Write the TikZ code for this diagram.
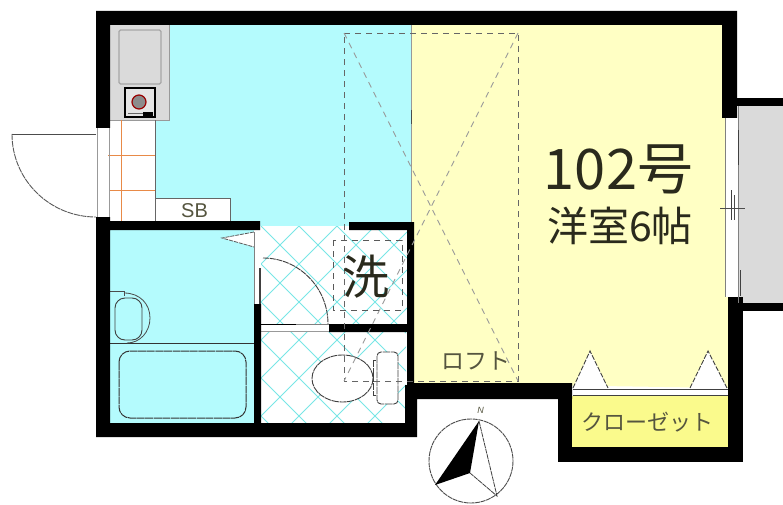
\documentclass[tikz,border=0pt]{standalone}
\usepackage{fontspec}
\setmainfont{Noto Sans CJK JP}
\setsansfont{Liberation Sans}
\newcommand{\fsz}[1]{\fontsize{#1}{#1}\selectfont}
\definecolor{bluefl}{HTML}{B4FBFD}
\definecolor{yellowfl}{HTML}{FFFFC4}
\definecolor{closetfl}{HTML}{FAFA8C}
\definecolor{greyfl}{HTML}{DADADA}
\definecolor{tilec}{HTML}{78E6E6}
\definecolor{orangel}{HTML}{E88A48}
\definecolor{txt}{HTML}{2A2A1C}
\definecolor{txtsoft}{HTML}{55553F}
\tikzset{
  wall/.style={fill=black,draw=none},
  thin line/.style={draw=#1,line width=0.8pt},
  thin line/.default=black!70,
  dashline/.style={draw=black!60,line width=0.9pt,dash pattern=on 6pt off 5pt},
  fixture/.style={draw=black!75,fill=white,line width=0.9pt,dash pattern=on 7pt off 0.7pt},
  label/.style={inner sep=0pt,text=txt},
  softlabel/.style={inner sep=0pt,text=txtsoft},
}
\begin{document}
\begin{tikzpicture}[x=1pt,y=-1pt]
\useasboundingbox (0,0) rectangle (783,505);
\fill[white] (0,0) rectangle (783,505);
% floors
\fill[bluefl] (155,25) rectangle (411,226);
\fill[yellowfl] (411,25) -- (722,25) -- (722,118) -- (726,118) -- (726,297) -- (728,297) -- (728,388) -- (411,383) -- cycle;
\fill[yellowfl] (411,300) rectangle (572,383);
\fill[closetfl] (572,396) rectangle (728,447);
\fill[greyfl] (110,25) rectangle (169,120);
\fill[white] (110,120) rectangle (155,221);
\fill[white] (155,198) rectangle (230,221);
\fill[bluefl] (110,230) rectangle (254,423);
\fill[greyfl] (738,106) rectangle (783,303);
\fill[white] (725,118) rectangle (738,297);
% tiled rooms
\begin{scope}
\clip (261,226) rectangle (407,324) (261,332) rectangle (406,423);
\fill[white] (261,226) rectangle (407,423);
\foreach \k in {-6,...,12} {
  \draw[tilec,line width=0.8pt] ({261+\k*38},226) -- ({261+\k*38+200},426);
  \draw[tilec,line width=0.8pt] ({261+\k*38},226) -- ({261+\k*38-200},426);
}
\end{scope}
% kitchen
\draw[thin line=black!40] (169,25) -- (169,120) -- (110,120);
\draw[draw=black!35,fill=greyfl,line width=1.2pt,rounded corners=1.5pt] (119,30) rectangle (161,84);
\draw[draw=black,fill=greyfl!70,line width=1.3pt] (125,88) rectangle (155,117);
\draw[draw=black!60,line width=1pt] (128,113.5) -- (152,113.5);
\fill[black] (143,112.5) rectangle (153,116);
\draw[draw=red!60!black,fill=black!45,line width=1.2pt] (139,102) circle (7);
% entrance
\draw[orangel,line width=1pt] (121,120) -- (121,221) (108,156) -- (155,156) (110,190) -- (155,190);
\draw[thin line=black!60] (155,120) -- (155,221);
\draw[thin line=black!60] (155,198) -- (230,198) -- (230,221);
\node[softlabel,font=\sffamily\fsz{20}] (sb) at (194.5,210.5) {SB};
% entrance door
\draw[draw=black!40,line width=1pt] (97,128) -- (97,217) (109,128) -- (109,217);
\coordinate (doorhinge) at (96,134);
\coordinate (doorleaf) at (12,134);
\coordinate (doorend) at (96,217);
\draw[thin line] (doorhinge) -- (doorleaf);
\draw[draw=black!65,line width=0.9pt,dash pattern=on 6pt off 0.8pt] (doorleaf) arc[start angle=180,end angle=90,x radius=84,y radius=83];
% bath
\draw[thin line=black!80] (110,343) -- (254,343);
\draw[draw=black!80,line width=1pt,rounded corners=11pt,dash pattern=on 8pt off 0.6pt] (119,351) rectangle (246,418);
\draw[thin line=black!70] (110,291) -- (124,291) -- (124,296);
\draw[thin line=black!70] (124,293) .. controls (140,293) and (150,304) .. (150,318) .. controls (150,332) and (140,343) .. (127,343);
\draw[draw=black!75,line width=0.9pt,rounded corners=10pt] (115,298) rectangle (142,340);
\draw[draw=black!65,fill=white,line width=0.8pt,dash pattern=on 4pt off 1pt] (254,232) -- (222,238) -- (254,247);
% washroom door
\fill[white] (254,230) rectangle (261,304);
\draw[draw=black!50,line width=0.9pt] (254,232) -- (254,304);
\draw[draw=black!75,line width=1.2pt] (260,268) -- (260,324);
\draw[draw=black!75,line width=0.9pt,dash pattern=on 6pt off 0.8pt] (263,258) arc[start angle=90,end angle=0,x radius=65,y radius=-66];
\fill[white] (261,325) rectangle (329,332);
\draw[draw=black!40,line width=0.8pt] (261,331.5) -- (329,331.5);
\draw[draw=black,line width=1.2pt] (261,324.5) -- (296,324.5);
\draw[draw=black!50,line width=0.8pt] (296,324.5) -- (329,324.5);
% toilet
\draw[fixture] (373,360) rectangle (378,395);
\draw[fixture] (342.5,378.5) ellipse (30.5 and 23.5);
\draw[fixture,rounded corners=4pt] (377,352) rectangle (398,404);
% walls
\fill[wall] (96,11) -- (737,11) -- (737,118) -- (722,118) -- (722,25) -- (110,25) -- (110,128) -- (96,128) -- cycle;
\fill[wall] (96,217) -- (110,217) -- (110,221) -- (260,221) -- (260,230) -- (110,230) -- (110,423) -- (254,423) -- (254,304) -- (261,304) -- (261,423) -- (405,423) -- (405,385) -- (407,385) -- (407,332) -- (329,332) -- (329,324) -- (407,324) -- (407,230) -- (349,230) -- (349,222) -- (414,222) -- (414,383) -- (572,383) -- (572,399) -- (417,399) -- (417,437) -- (96,437) -- cycle;
\fill[wall] (558,383) rectangle (572,462);
\fill[wall] (558,447) rectangle (743,462);
\fill[wall] (728,297) rectangle (743,462);
\fill[wall] (737,98) rectangle (783,106);
\fill[wall] (742,303) rectangle (783,311);
% closet front
\draw[draw=black!75,line width=0.9pt] (573,389) -- (728,389) (573,395) -- (728,395);
\fill[white] (573,390) rectangle (728,394.5);
\draw[fixture,dash pattern=on 5pt off 1.5pt] (573,388) -- (590,351) -- (608,388);
\draw[fixture,dash pattern=on 5pt off 1.5pt] (690,388) -- (708,351) -- (727,388);
% window
\draw[draw=black!50,line width=0.8pt] (725,118) -- (725,297) (738,106) -- (738,303);
\draw[draw=black!75,line width=1pt] (738,130) -- (738,165) (731,190) -- (731,220) (740,270) -- (740,296);
\draw[thin line=black!70] (720,208) -- (745,208) (734,195) -- (734,220);
% room divider
\draw[draw=black!40,line width=0.8pt] (411,25) -- (411,222);
\draw[draw=black!70,line width=0.9pt] (411,110) -- (411,124);
% loft outline
\coordinate (la) at (344,33);
\coordinate (lb) at (518,33);
\coordinate (lc) at (518,381);
\coordinate (ld) at (344,381);
\draw[dashline] (la) -- (lb) -- (lc) -- (ld) -- cycle;
\draw[dashline,draw=black!40] (la) -- (lc) (lb) -- (ld);
% washer pan
\draw[dashline,draw=black!65,fill=none] (333,240) rectangle (402,310);
% labels
\node[label,font=\fsz{56}] (room) at (618.5,169) {102号};
\node[label,font=\fsz{41}] (kind) at (620,226) {洋室6帖};
\node[label,font=\fsz{47}] (wash) at (366,277) {洗};
\node[softlabel,font=\fsz{23}] (loft) at (475.5,361) {ロフト};
\node[softlabel,font=\fsz{22}] (closet) at (647,422) {クローゼット};
% compass
\draw[draw=black!70,line width=0.9pt,dash pattern=on 5pt off 0.7pt] (471,461) circle (42);
\coordinate (ctip) at (479,421);
\coordinate (cleft) at (435,485);
\coordinate (cright) at (497,496);
\coordinate (cmid) at (470,473);
\fill[black] (ctip) -- (cleft) -- (cmid) -- cycle;
\draw[draw=black!75,line width=0.8pt,dash pattern=on 5pt off 0.7pt] (ctip) -- (cright) -- (cmid);
\node[softlabel,font=\sffamily\itshape\fsz{9}] (north) at (480.5,410) {N};
\end{tikzpicture}
\end{document}
